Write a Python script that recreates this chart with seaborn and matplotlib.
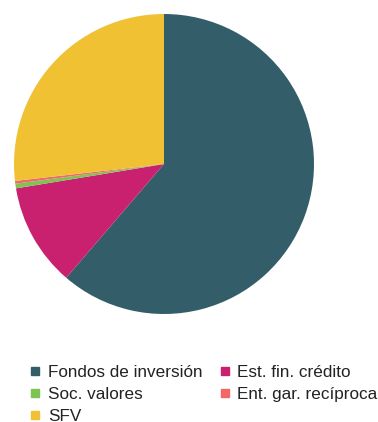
import matplotlib
matplotlib.use("Agg")
import matplotlib.pyplot as plt
from matplotlib.lines import Line2D
import seaborn as sns

categories = ["Fondos de inversión", "Est. fin. crédito", "Soc. valores",
              "Ent. gar. recíproca", "SFV"]
values = [61.3, 11.1, 0.5, 0.3, 26.8]
colors = ["#335e69", "#c9206f", "#7fc452", "#f26868", "#efc133"]

sns.set_theme(style="white")
plt.rcParams['font.family'] = ['Liberation Sans', 'DejaVu Sans']

W, H = 378, 422
fig = plt.figure(figsize=(W / 100, H / 100), dpi=100)
fig.patch.set_facecolor("white")

cx, cy, r = 164, 164, 150
ax = fig.add_axes([(cx - r) / W, (H - cy - r) / H, 2 * r / W, 2 * r / H])
ax.pie(values, colors=colors, startangle=90, counterclock=False,
       radius=1, wedgeprops=dict(linewidth=0))
ax.set_xlim(-1, 1)
ax.set_ylim(-1, 1)
ax.set_aspect("equal")
ax.axis("off")

handles = [Line2D([0], [0], marker="s", linestyle="none", markersize=6,
                  markerfacecolor=c, markeredgecolor=c) for c in colors]
order = [0, 2, 4, 1, 3]
leg = fig.legend([handles[i] for i in order], [categories[i] for i in order],
                 loc="upper left",
                 bbox_to_anchor=(30 / W, 1 - 365 / H), ncol=2,
                 frameon=False, fontsize=12.3, handlelength=0.6,
                 handletextpad=0.45, columnspacing=1.0, labelspacing=0.42,
                 borderpad=0, borderaxespad=0)
for t in leg.get_texts():
    t.set_color("#222222")

fig.savefig("out.png", dpi=100, facecolor="white")
